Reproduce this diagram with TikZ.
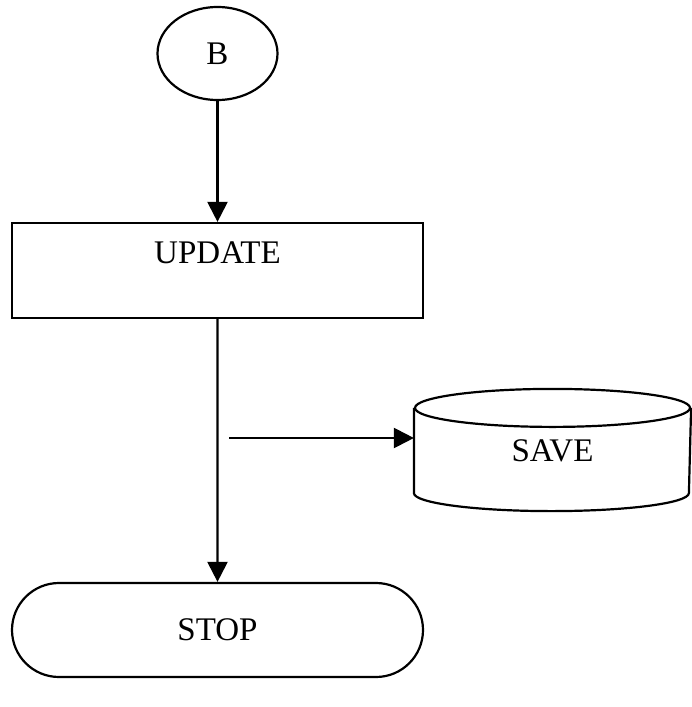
\documentclass[tikz,border=0pt]{standalone}
\usepackage{fontspec}
\setmainfont{Liberation Serif}
\usepackage{tikz}
\usetikzlibrary{arrows.meta,shapes.geometric,shapes.misc}
\tikzset{
  chart line/.style={draw=black,line width=1.1pt},
  chart box/.style={chart line,inner sep=0pt,font=\fontsize{16.5}{19}\selectfont},
  connector/.style={chart box,ellipse,minimum width=60pt,minimum height=46.5pt},
  process box/.style={chart box,rectangle,minimum width=205.5pt,text height=20.4pt,text depth=27.1pt},
  terminal box/.style={chart box,rounded rectangle,minimum width=205.5pt,minimum height=47pt},
  store box/.style={chart box,rectangle,draw=none,minimum width=137.5pt,minimum height=41.5pt},
  chart arrow/.style={-{Triangle[length=10pt,width=10pt]},chart line}
}
\begin{document}
\begin{tikzpicture}[x=0.5pt,y=-0.5pt]
\useasboundingbox (0,0) rectangle (691,707);
\node[connector] (b) at (217.5,53.5) {B};
\node[process box] (update) at (217.5,270.5) {UPDATE};
\node[terminal box] (stop) at (217.5,630) {STOP};
\node[store box] (save) at (552.5,450.5) {SAVE};
% disk outline round the save node
\draw[chart line] (save.north west) -- (save.south west)
  arc[start angle=180,end angle=360,x radius=68.75pt,y radius=9pt] -- (save.north east);
\draw[chart line] (save.north) ellipse[x radius=68.75pt,y radius=9.5pt];
\coordinate (tap) at (229,438);
\draw[chart arrow] (b) -- (update);
\draw[chart arrow] (update) -- (stop);
\draw[chart arrow] (tap) -- (tap -| save.west);
\end{tikzpicture}
\end{document}
